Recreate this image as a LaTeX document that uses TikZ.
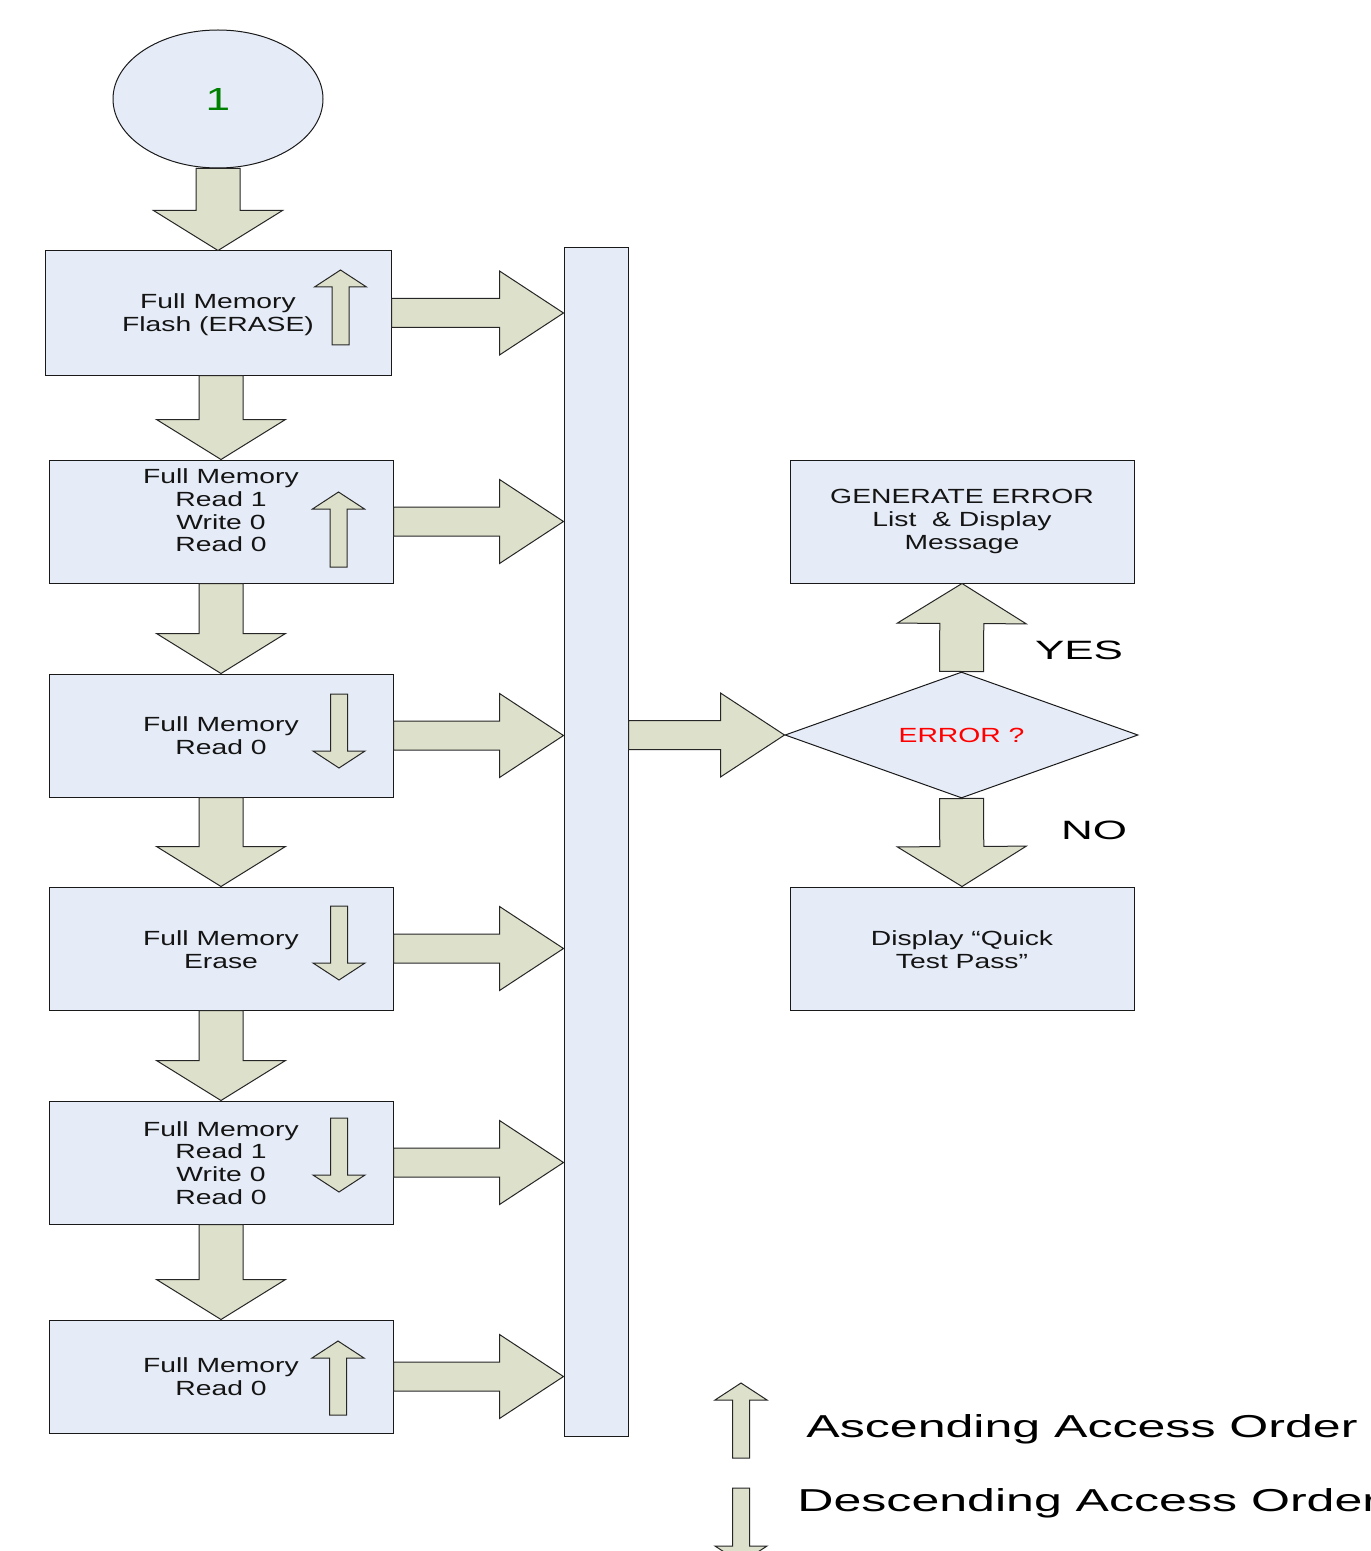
\documentclass[tikz,border=0pt]{standalone}
\usepackage{fontspec}
\setmainfont{Liberation Sans}
\newfontfamily\boxfont[FakeStretch=1.38]{Liberation Sans}
\newfontfamily\legfont[FakeStretch=1.58]{Liberation Sans}
\newfontfamily\ynfont[FakeStretch=1.66]{Liberation Sans}
\usetikzlibrary{shapes.geometric,calc}
\definecolor{boxblue}{RGB}{230,236,247}
\definecolor{arrfill}{RGB}{221,224,202}
\definecolor{darkgreen}{RGB}{0,128,0}
\tikzset{
  box/.style={draw=black!90, fill=boxblue, line width=0.5pt, inner sep=0,
              minimum width=172pt, minimum height=61.5pt},
  txt/.style={font=\boxfont\fontsize{10.25}{11.35}\selectfont, align=center,
              inner sep=0, text=black!92},
  blk/.style={draw=black!85, fill=arrfill, line width=0.5pt, line join=miter},
  yn/.style={font=\ynfont\fontsize{13.25}{15}\selectfont, inner sep=0},
  leg/.style={font=\legfont\fontsize{15.85}{18}\selectfont, inner sep=0, anchor=base west},
}
\newcommand\blockarrow[5]{%
  \coordinate (ba) at ($(#2)!#5!(#1)$);
  \draw[blk] ($(#1)!#3!90:(#2)$) -- ($(ba)!#3!90:(#2)$) -- ($(ba)!#4!90:(#2)$)
    -- (#2) -- ($(ba)!#4!-90:(#2)$) -- ($(ba)!#3!-90:(#2)$)
    -- ($(#1)!#3!-90:(#2)$) -- cycle;}
\newcommand\bigdown[2]{\blockarrow{#1}{#2}{11pt}{32.25pt}{20pt}}
\newcommand\bigright[2]{\blockarrow{#1}{#2}{7.25pt}{21pt}{32pt}}
\newcommand\smallarr[2]{\blockarrow{#1}{#2}{4.25pt}{13pt}{8.5pt}}
\begin{document}
\begin{tikzpicture}[x=0.5pt,y=-0.5pt]
\useasboundingbox (0,0) rectangle (1370,1551);
\fill[white] (0,0) rectangle (1370,1551);
\clip (0,0) rectangle (1370,1551);

% start ellipse
\node[ellipse, draw=black!90, fill=boxblue, line width=0.5pt, inner sep=0,
      minimum width=105pt, minimum height=69pt, text=darkgreen,
      font=\boxfont\fontsize{16}{18}\selectfont] (start) at (218,99) {1};

% left column boxes
\node[box, minimum width=173pt, minimum height=62pt] (b1) at (218,313) {};
\node[box] (b2) at (221,521.5) {};
\node[box] (b3) at (221,735.5) {};
\node[box] (b4) at (221,948.5) {};
\node[box] (b5) at (221,1162.5) {};
\node[box, minimum height=56.5pt] (b6) at (221,1376.5) {};

\node[txt] (t1) at (218,314.5) {Full Memory\\Flash (ERASE)};
\node[txt] (t2) at (221,510.5) {Full Memory\\Read 1\\Write 0\\Read 0};
\node[txt] (t3) at (221,735.5) {Full Memory\\Read 0};
\node[txt] (t4) at (221,949.5) {Full Memory\\Erase};
\node[txt] (t5) at (221,1163) {Full Memory\\Read 1\\Write 0\\Read 0};
\node[txt] (t6) at (221,1377) {Full Memory\\Read 0};

% collector bar
\node[box, minimum width=32pt, minimum height=594pt] (bar) at (596,842) {};

% decision and right column
\node[diamond, aspect=2.8, draw=black!90, fill=boxblue, line width=0.5pt, inner sep=0,
      minimum width=176.5pt, minimum height=63pt, text=red,
      font=\boxfont\fontsize{10.25}{12}\selectfont] (dec) at (961.5,735) {ERROR ?};
\node[box] (gen) at (962,521.5) {};
\node[txt] (tg) at (962,521.5) {GENERATE ERROR\\List~~\& Display\\Message};
\node[box] (disp) at (962,948.5) {};
\node[txt] (td) at (962,949.5) {Display “Quick\\Test Pass”};

\node[yn] (yes) at (1079,650) {YES};
\node[yn] (no) at (1094,830) {NO};

% vertical flow arrows
\bigdown{start.south}{b1.north}
\coordinate (c2) at (b2.north |- b1.south);
\bigdown{c2}{b2.north}
\bigdown{b2.south}{b3.north}
\bigdown{b3.south}{b4.north}
\bigdown{b4.south}{b5.north}
\bigdown{b5.south}{b6.north}

% arrows into the bar
\foreach \b in {b1,b2,b3,b4,b5,b6}{
  \coordinate (r\b) at (bar.west |- \b.east);
  \bigright{\b.east}{r\b}
}
\coordinate (rd) at (bar.east |- dec.west);
\bigright{rd}{dec.west}

% yes / no
\bigdown{dec.north}{gen.south}
\bigdown{dec.south}{disp.north}

% access-order arrows in boxes
\coordinate (u1a) at (340.5,345); \coordinate (u1b) at (340.5,270);
\smallarr{u1a}{u1b}
\coordinate (u2a) at (338.5,567); \coordinate (u2b) at (338.5,492);
\smallarr{u2a}{u2b}
\coordinate (d3a) at (339,694); \coordinate (d3b) at (339,768);
\smallarr{d3a}{d3b}
\coordinate (d4a) at (339,906); \coordinate (d4b) at (339,980);
\smallarr{d4a}{d4b}
\coordinate (d5a) at (339,1118); \coordinate (d5b) at (339,1192);
\smallarr{d5a}{d5b}
\coordinate (u6a) at (338,1415); \coordinate (u6b) at (338,1341);
\smallarr{u6a}{u6b}

% legend
\coordinate (lua) at (741,1458); \coordinate (lub) at (741,1383);
\smallarr{lua}{lub}
\coordinate (lda) at (741,1488); \coordinate (ldb) at (741,1563);
\smallarr{lda}{ldb}
\node[leg] (asc) at (806,1437) {Ascending Access Order};
\node[leg] (desc) at (797,1511) {Descending Access Order};
\end{tikzpicture}
\end{document}
